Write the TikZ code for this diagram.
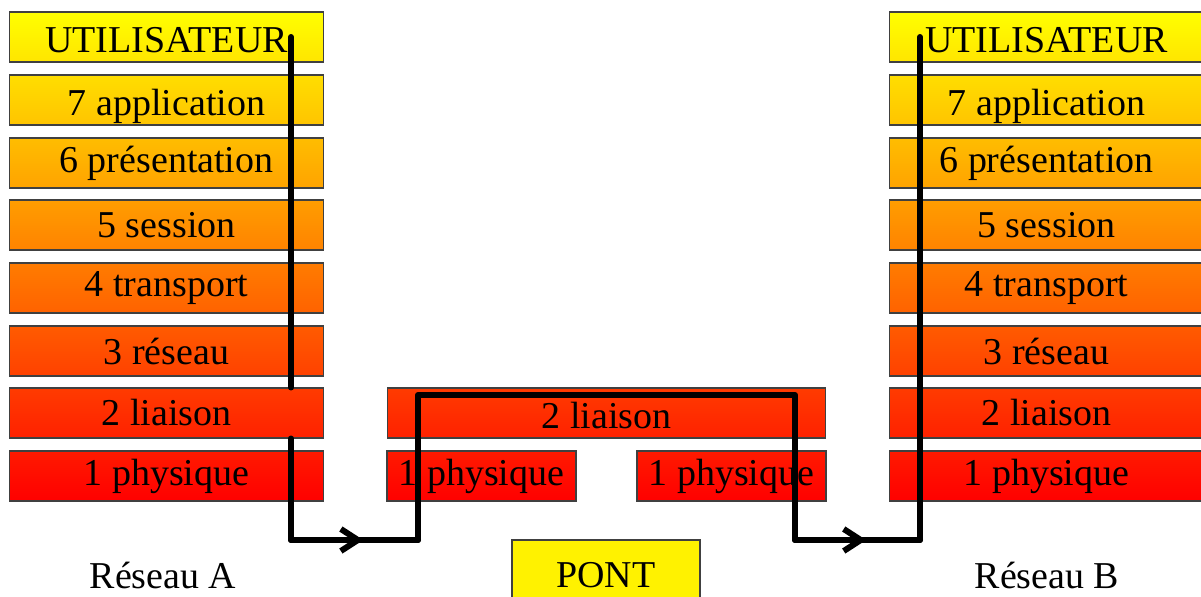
\documentclass[tikz,border=0pt]{standalone}
\usepackage{fontspec}
\setmainfont{Liberation Serif}
\usepackage{tikz}
\usetikzlibrary{arrows.meta,decorations.markings}

% teintes des couches (haut/bas)
\definecolor{g8a}{RGB}{255,255,0}
\definecolor{g8b}{RGB}{255,229,0}
\definecolor{g7a}{RGB}{255,222,0}
\definecolor{g7b}{RGB}{255,196,0}
\definecolor{g6a}{RGB}{255,189,0}
\definecolor{g6b}{RGB}{255,163,0}
\definecolor{g5a}{RGB}{255,157,0}
\definecolor{g5b}{RGB}{255,131,0}
\definecolor{g4a}{RGB}{255,124,0}
\definecolor{g4b}{RGB}{255,98,0}
\definecolor{g3a}{RGB}{255,91,0}
\definecolor{g3b}{RGB}{255,65,0}
\definecolor{g2a}{RGB}{255,59,0}
\definecolor{g2b}{RGB}{255,33,0}
\definecolor{g1a}{RGB}{255,26,0}
\definecolor{g1b}{RGB}{255,0,0}

\begin{document}
\begin{tikzpicture}[x=0.02cm,y=-0.02cm,teinte/.style={top color=g#1a,bottom color=g#1b}]
\tikzstyle{every node}=[font=\fontsize{21.6}{26}\selectfont];
\tikzstyle{couche}=[draw=black!75,line width=0.6pt,minimum width=6.3cm,minimum height=1cm,inner sep=0pt];
\tikzstyle{bas}=[text height=0.6cm,text depth=0cm];
\tikzstyle{flux}=[line width=0.12cm,line cap=round,line join=round];
\tikzstyle{fleche}=[postaction={decorate},decoration={markings,mark=at position 0.57 with {\arrow{Straight Barb[length=0.34cm,width=0.44cm]}}}];
\useasboundingbox (0,0) rectangle (1201,596);
% pile du reseau A
    \node[couche,teinte=8,bas] (userA) at (166.5,37) {UTILISATEUR};
    \node[couche,teinte=7,bas] (appA) at (166.5,100) {7 application};
    \node[couche,teinte=6] (presA) at (166.5,163) {6 présentation};
    \node[couche,teinte=5] (sessA) at (166.5,225) {5 session};
    \node[couche,teinte=4] (transA) at (166.5,288) {4 transport};
    \node[couche,teinte=3] (resA) at (166.5,351) {3 réseau};
    \node[couche,teinte=2] (liaisA) at (166.5,413) {2 liaison};
    \node[couche,teinte=1] (physA) at (166.5,476) {1 physique};
% pile du reseau B
    \node[couche,teinte=8,bas] (userB) at (1046.5,37) {UTILISATEUR};
    \node[couche,teinte=7,bas] (appB) at (1046.5,100) {7 application};
    \node[couche,teinte=6] (presB) at (1046.5,163) {6 présentation};
    \node[couche,teinte=5] (sessB) at (1046.5,225) {5 session};
    \node[couche,teinte=4] (transB) at (1046.5,288) {4 transport};
    \node[couche,teinte=3] (resB) at (1046.5,351) {3 réseau};
    \node[couche,teinte=2] (liaisB) at (1046.5,413) {2 liaison};
    \node[couche,teinte=1] (physB) at (1046.5,476) {1 physique};
% pont
    \node[couche,teinte=2,bas,minimum width=8.78cm] (liaisP) at (606.5,413) {2 liaison};
    \node[couche,teinte=1,minimum width=3.78cm] (physPA) at (481.5,476) {1 physique};
    \node[couche,teinte=1,minimum width=3.78cm] (physPB) at (731.5,476) {1 physique};
    \node[draw=black!75,line width=0.6pt,fill=yellow,minimum width=3.76cm,minimum height=1.4cm] (pont) at (606,575) {PONT};
    \node (reseauA) at (163,575) {Réseau A};
    \node (reseauB) at (1047,575) {Réseau B};
% trajet
    \coordinate (t0) at (291,37);
    \coordinate (t1) at (291,540);
    \coordinate (t2) at (418,540);
    \coordinate (t3) at (418,395);
    \coordinate (t4) at (795,395);
    \coordinate (t5) at (795,540);
    \coordinate (t6) at (920,540);
    \coordinate (t7) at (920,37);
    \draw[flux] (t0) -- (t0 |- liaisA.north);
    \draw[flux] (t0 |- liaisA.south) -- (t1) -- (t2) -- (t3) -- (t4) -- (t5) -- (t6) -- (t7);
    \draw[flux,fleche] (t1) -- (t2);
    \draw[flux,fleche] (t5) -- (t6);
\end{tikzpicture}
\end{document}
